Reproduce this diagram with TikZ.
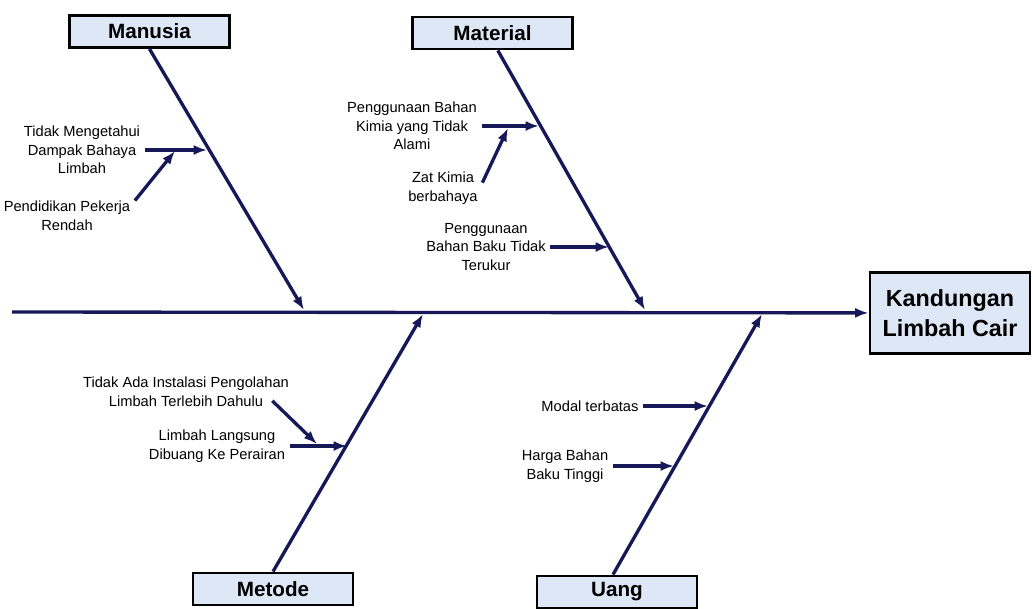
\documentclass[tikz,border=0pt]{standalone}
\usepackage{fontspec}
\setmainfont{Liberation Sans}
\usetikzlibrary{arrows.meta}
\definecolor{boxblue}{RGB}{221,231,245}
\definecolor{bonecol}{RGB}{22,24,88}
\tikzset{
  cause box/.style={draw, line width=2.2pt, fill=boxblue, minimum width=120pt,
    minimum height=24pt, font=\fontsize{15.5}{18}\selectfont\bfseries},
  effect box/.style={draw, line width=2.2pt, fill=boxblue, minimum width=120pt,
    minimum height=61pt, align=center, font=\fontsize{17.5}{23}\selectfont\bfseries},
  reason/.style={align=center, font=\fontsize{11}{14}\selectfont},
  bone/.style={draw=bonecol, line width=2.5pt, -{Latex[length=10pt, width=7.5pt]}}
}
\begin{document}
\begin{tikzpicture}[x=0.75pt, y=-0.75pt]
  \useasboundingbox (0,0) rectangle (1033,608);

  % head and spine
  \node [effect box](effect) at (950,313) {Kandungan\\Limbah Cair};
  \coordinate (tail) at (12,312);
  \draw [bone] (tail) -- (effect);

  % categories and bones
  \foreach \n/\t/\x/\y in {manusia/Manusia/149.5/31.5, material/Material/492.5/33,
      metode/Metode/273/589, uang/Uang/617/592}
    \node [cause box](\n) at (\x,\y) {\t};
  \foreach \n/\x/\y in {manusia/304/310, material/645/310, metode/423/314, uang/762/314}
    \coordinate (\n-end) at (\x,\y);

  \draw [bone] (manusia.south) -- (manusia-end);
  \draw [bone] ([xshift=4pt]material.south) -- (material-end);
  \draw [bone] (metode.north) -- (metode-end);
  \draw [bone] ([xshift=-3pt]uang.north) -- (uang-end);

  % causes
  \node [reason](tidak) at (82,150) {Tidak Mengetahui\\Dampak Bahaya\\Limbah};
  \node [reason](pendidikan) at (67,216) {Pendidikan Pekerja\\Rendah};
  \node [reason](kimia) at (412,126) {Penggunaan Bahan\\Kimia yang Tidak\\Alami};
  \node [reason](zat) at (443,188) {Zat Kimia\\berbahaya};
  \node [reason](takukur) at (486,247) {Penggunaan\\Bahan Baku Tidak\\Terukur};
  \node [reason](instalasi) at (186,392) {Tidak Ada Instalasi Pengolahan\\Limbah Terlebih Dahulu};
  \node [reason](langsung) at (217,446) {Limbah Langsung\\Dibuang Ke Perairan};
  \node [reason](modal) at (590,406) {Modal terbatas};
  \node [reason](harga) at (565,466) {Harga Bahan\\Baku Tinggi};

  \foreach \n/\x/\y in {tidak/207/150, kimia/539/126, takukur/609/247,
      langsung/347/446, modal/708/406, harga/674/466}
    \coordinate (\n-end) at (\x,\y);
  \foreach \n in {tidak, kimia, takukur, langsung, modal, harga}
    \draw [bone] (\n.east) -- (\n-end);

  % sub causes
  \coordinate (tidak-mid) at (175,151);
  \coordinate (kimia-mid) at (508,128);
  \coordinate (langsung-mid) at (317,444);
  \draw [bone] ([yshift=-3pt]pendidikan.north east) -- (tidak-mid);
  \draw [bone] ([yshift=4pt]zat.east) -- (kimia-mid);
  \draw [bone] ([xshift=-16pt, yshift=8pt]instalasi.south east) -- (langsung-mid);
\end{tikzpicture}
\end{document}
